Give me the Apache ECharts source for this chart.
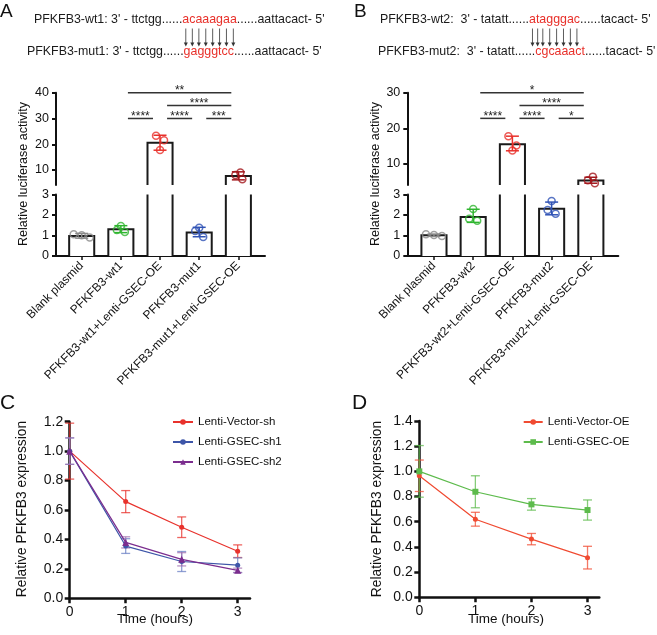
<!DOCTYPE html>
<html><head><meta charset="utf-8">
<script src="https://cdn.jsdelivr.net/npm/echarts@6/dist/echarts.min.js"></script>
<style>html,body{margin:0;padding:0;background:#fff}#c{width:657px;height:635px}</style>
</head><body><div id="c"></div>
<script>
const FONT = "'Liberation Sans', Arial, Helvetica, sans-serif";

// ---------- Panel A ----------
const catsA = ['Blank plasmid', 'PFKFB3-wt1', 'PFKFB3-wt1+Lenti-GSEC-OE', 'PFKFB3-mut1', 'PFKFB3-mut1+Lenti-GSEC-OE'];
const meanA = [0.98, 1.30, 20.6, 1.15, 7.7];
const errLoA = [0.87, 1.14, 17.7, 0.94, 6.2];
const errHiA = [1.10, 1.48, 23.5, 1.40, 9.3];
const ptsA = [[1.06, 1.01, 0.90], [1.46, 1.27, 1.17], [23.3, 21.6, 17.8], [1.38, 1.22, 0.93], [9.0, 8.1, 6.4]];
const sigFromA = [1, 2, 3, 2, 1];   // category index (0-based)
const sigToA = [2, 3, 4, 4, 4];
const sigYA = [30, 30, 30, 35, 40];
const sigTextA = ['****', '****', '***', '****', '**'];
const upperTicksA = [10, 20, 30, 40];

// ---------- Panel B ----------
const catsB = ['Blank plasmid', 'PFKFB3-wt2', 'PFKFB3-wt2+Lenti-GSEC-OE', 'PFKFB3-mut2', 'PFKFB3-mut2+Lenti-GSEC-OE'];
const meanB = [1.01, 1.90, 15.5, 2.31, 5.35];
const errLoB = [0.96, 1.64, 13.7, 2.01, 4.6];
const errHiB = [1.07, 2.28, 17.8, 2.63, 6.27];
const ptsB = [[1.06, 1.03, 0.97], [2.29, 1.82, 1.72], [17.8, 15.2, 13.8], [2.68, 2.24, 2.06], [6.45, 5.4, 4.6]];
const sigFromB = [1, 2, 3, 2, 1];
const sigToB = [2, 3, 4, 4, 4];
const sigYB = [22.8, 22.8, 22.8, 26.4, 30];
const sigTextB = ['****', '****', '*', '****', '*'];
const upperTicksB = [10, 20, 30];
const lowerTicks = [0, 1, 2, 3];

// ---------- Panel C ----------
const timeC = [0, 1, 2, 3];
const vecShC = [1.0, 0.657, 0.483, 0.32];
const vecShErrC = [0.19, 0.075, 0.07, 0.043];
const sh1C = [1.0, 0.355, 0.25, 0.225];
const sh1ErrC = [0.09, 0.05, 0.068, 0.05];
const sh2C = [1.0, 0.38, 0.265, 0.19];
const sh2ErrC = [0.09, 0.038, 0.045, 0.015];

// ---------- Panel D ----------
const timeD = [0, 1, 2, 3];
const vecOED = [0.965, 0.62, 0.462, 0.315];
const vecOEErrD = [0.125, 0.055, 0.045, 0.09];
const gsecOED = [1.0, 0.838, 0.738, 0.693];
const gsecOEErrD = [0.205, 0.127, 0.046, 0.08];
const timeTicks = [0, 1, 2, 3];

// ---------- styles ----------
const ptColors = ['#8a8a8a', '#2fb52f', '#e8302a', '#2f52b5', '#a3161c'];
const jitter = [[-8, 0, 8], [0, -4, 4], [-4, 4, 0], [0, -4, 4], [2, -3, 4]];
const AX = '#111';
const POS = i => i + 1;              // category slot on the value x-axis (kept away from 0)
const CAT_TICKS = [1, 2, 3, 4, 5];

function barSeries(xi, yi, means, lo, hi) {
  return {
    type: 'custom', xAxisIndex: xi, yAxisIndex: yi, z: 2, clip: false, silent: true,
    data: means.map((m, i) => [POS(i), m]),
    renderItem(params, api) {
      const x = api.value(0), v = api.value(1);
      const b = Math.max(0, lo), t = Math.min(v, hi);
      if (t <= b) return null;
      const pb = api.coord([x, b]), pt = api.coord([x, t]);
      const hw = api.size([1, 0])[0] * 0.32;
      const x0 = pb[0] - hw, x1 = pb[0] + hw;
      const ch = [{ type: 'rect', shape: { x: x0, y: pt[1], width: 2 * hw, height: pb[1] - pt[1] }, style: { fill: '#fff' } }];
      const st = { stroke: '#1a1a1a', lineWidth: 2, fill: null };
      if (v <= hi) ch.push({ type: 'polyline', shape: { points: [[x0, pb[1]], [x0, pt[1]], [x1, pt[1]], [x1, pb[1]]] }, style: st });
      else {
        ch.push({ type: 'line', shape: { x1: x0, y1: pb[1], x2: x0, y2: pt[1] }, style: st });
        ch.push({ type: 'line', shape: { x1: x1, y1: pb[1], x2: x1, y2: pt[1] }, style: st });
      }
      return { type: 'group', children: ch };
    }
  };
}
function errSeries(xi, yi, means, los, his, lo, hi) {
  const data = [];
  means.forEach((m, i) => { if (m >= lo && m <= hi) data.push([POS(i), los[i], his[i], i]); });
  return {
    type: 'custom', xAxisIndex: xi, yAxisIndex: yi, z: 3, clip: false, silent: true, data,
    renderItem(params, api) {
      const x = api.value(0);
      const a = api.coord([x, api.value(1)]), b = api.coord([x, api.value(2)]);
      const c = ptColors[api.value(3)], w = 6.5;
      const st = { stroke: c, lineWidth: 1.5 };
      return { type: 'group', children: [
        { type: 'line', shape: { x1: a[0], y1: a[1], x2: b[0], y2: b[1] }, style: st },
        { type: 'line', shape: { x1: a[0] - w, y1: a[1], x2: a[0] + w, y2: a[1] }, style: st },
        { type: 'line', shape: { x1: b[0] - w, y1: b[1], x2: b[0] + w, y2: b[1] }, style: st }
      ] };
    }
  };
}
function ptSeries(xi, yi, means, pts, lo, hi) {
  const data = [];
  means.forEach((m, i) => {
    if (m >= lo && m <= hi) pts[i].forEach((p, k) => data.push({
      value: [POS(i), p], symbolOffset: [jitter[i][k], 0],
      itemStyle: { color: 'rgba(255,255,255,0)', borderColor: ptColors[i], borderWidth: 1.5 }
    }));
  });
  return { type: 'scatter', xAxisIndex: xi, yAxisIndex: yi, z: 4, clip: false, silent: true, symbol: 'circle', symbolSize: 7, data };
}
function sigSeries(xi, yi, from, to, ys, texts) {
  return {
    type: 'custom', xAxisIndex: xi, yAxisIndex: yi, z: 5, clip: false, silent: true,
    data: from.map((f, i) => [POS(f), POS(to[i]), ys[i], i]),
    renderItem(params, api) {
      const a = api.coord([api.value(0) + 0.18, api.value(2)]);
      const b = api.coord([api.value(1) - 0.18, api.value(2)]);
      return { type: 'group', children: [
        { type: 'line', shape: { x1: a[0], y1: a[1], x2: b[0], y2: b[1] }, style: { stroke: '#333', lineWidth: 1.5 } },
        { type: 'text', x: (a[0] + b[0]) / 2, y: a[1] - 2, style: { text: texts[api.value(3)], fill: '#222', fontSize: 12, fontFamily: FONT, align: 'center', verticalAlign: 'middle' } }
      ] };
    }
  };
}
function lineErr(xi, yi, xs, ys, es, color) {
  return {
    type: 'custom', xAxisIndex: xi, yAxisIndex: yi, z: 3, clip: false, silent: true,
    data: xs.map((x, i) => [x, ys[i] - es[i], ys[i] + es[i]]),
    renderItem(params, api) {
      const a = api.coord([api.value(0), api.value(1)]), b = api.coord([api.value(0), api.value(2)]);
      const w = 4.5, st = { stroke: color, lineWidth: 1.3, opacity: 0.75 };
      return { type: 'group', children: [
        { type: 'line', shape: { x1: a[0], y1: a[1], x2: b[0], y2: b[1] }, style: st },
        { type: 'line', shape: { x1: a[0] - w, y1: a[1], x2: a[0] + w, y2: a[1] }, style: st },
        { type: 'line', shape: { x1: b[0] - w, y1: b[1], x2: b[0] + w, y2: b[1] }, style: st }
      ] };
    }
  };
}
function lineS(xi, yi, name, xs, ys, color, symbol, size) {
  return {
    type: 'line', name, xAxisIndex: xi, yAxisIndex: yi, z: 4, symbol, symbolSize: size, showSymbol: true,
    data: xs.map((x, i) => [x, ys[i]]), color,
    lineStyle: { color, width: 1.2 }, itemStyle: { color }, clip: false
  };
}

const yAxisBase = (gi, min, max, ticks, fmt, fs, margin) => ({
  type: 'value', gridIndex: gi, min, max,
  axisLine: { show: true, onZero: false, lineStyle: { color: AX, width: 2 } },
  axisTick: { show: true, length: 4, lineStyle: { color: AX, width: 2 }, customValues: ticks },
  axisLabel: { color: '#111', fontSize: fs || 12.5, fontFamily: FONT, margin: margin || 7, customValues: ticks, formatter: fmt || (v => String(v)) },
  splitLine: { show: false }
});
const xHidden = (gi, min, max) => ({ type: 'value', gridIndex: gi, min, max, show: false, splitLine: { show: false } });
const xCat = (gi, min, max, cats) => ({
  type: 'value', gridIndex: gi, min, max,
  axisLine: { show: true, onZero: false, lineStyle: { color: AX, width: 2 } },
  axisTick: { show: true, length: 4, lineStyle: { color: AX, width: 1.5 }, customValues: CAT_TICKS },
  axisLabel: { color: '#111', fontSize: 12, fontFamily: FONT, rotate: 45, margin: 8, customValues: CAT_TICKS, formatter: v => cats[Math.round(v) - 1] },
  splitLine: { show: false }
});
const xTime = (gi, max) => ({
  type: 'value', gridIndex: gi, min: 0, max,
  axisLine: { show: true, onZero: false, lineStyle: { color: AX, width: 2.5 } },
  axisTick: { show: true, length: 5, lineStyle: { color: AX, width: 2.5 }, customValues: timeTicks },
  axisLabel: { color: '#111', fontSize: 14, fontFamily: FONT, margin: 7, customValues: timeTicks },
  splitLine: { show: false }
});
const yVal = (gi, max) => {
  const t = []; for (let k = 0; k <= Math.round(max / 0.2); k++) t.push(+(k * 0.2).toFixed(1));
  const a = yAxisBase(gi, 0, max, t, v => v.toFixed(1), 14, 6.5);
  a.axisLine.lineStyle.width = 2.5; a.axisTick.lineStyle.width = 2.5; a.axisTick.length = 5;
  return a;
};

// ---------- graphics: sequences ----------
const ctx = document.createElement('canvas').getContext('2d');
const SEQ_FS = 12.4;
ctx.font = SEQ_FS + 'px "Liberation Sans"';
const mw = s => ctx.measureText(s).width;
const graphics = [];
function seqLine(x, y, pre, red, post, arrows) {
  const base = { fontSize: SEQ_FS, fontFamily: FONT, verticalAlign: 'middle', align: 'left' };
  const rx = x + mw(pre), px = rx + mw(red);
  graphics.push({ type: 'text', x, y, style: Object.assign({ text: pre, fill: '#1a1a1a' }, base) });
  graphics.push({ type: 'text', x: rx, y, style: Object.assign({ text: red, fill: '#e8302a' }, base) });
  graphics.push({ type: 'text', x: px, y, style: Object.assign({ text: post, fill: '#1a1a1a' }, base) });
  if (arrows) {
    let cx = rx;
    for (const ch of red) {
      const c = cx + mw(ch) / 2; cx += mw(ch);
      graphics.push({ type: 'line', shape: { x1: c, y1: 28.5, x2: c, y2: 43 }, style: { stroke: '#333', lineWidth: 0.8 } });
      graphics.push({ type: 'polygon', shape: { points: [[c - 2, 42.5], [c + 2, 42.5], [c, 46.5]] }, style: { fill: '#333' } });
    }
  }
}
seqLine(34, 20, "PFKFB3-wt1: 3' - ttctgg......", 'acaaagaa', "......aattacact- 5'", true);
seqLine(27, 52, "PFKFB3-mut1: 3' - ttctgg......", 'gagggtcc', "......aattacact- 5'", false);
seqLine(380, 20, "PFKFB3-wt2:  3' - tatatt......", 'atagggac', "......tacact- 5'", true);
seqLine(378, 52, "PFKFB3-mut2:  3' - tatatt......", 'cgcaaact', "......tacact- 5'", false);

const letter = (t, x, y, fs) => ({ type: 'text', x, y, style: { text: t, fontSize: fs, fontFamily: FONT, fill: '#111', align: 'left', verticalAlign: 'middle' } });
graphics.push(letter('A', 0, 12, 19), letter('B', 354, 12, 19), letter('C', 0, 403, 21), letter('D', 352, 403, 21));
const vTitle = (t, x, y, fs) => ({ type: 'text', x, y, rotation: Math.PI / 2, style: { text: t, fontSize: fs, fontFamily: FONT, fill: '#111', align: 'center', verticalAlign: 'middle' } });
const hTitle = (t, x, y, fs) => ({ type: 'text', x, y, style: { text: t, fontSize: fs, fontFamily: FONT, fill: '#111', align: 'center', verticalAlign: 'middle' } });
graphics.push(vTitle('Relative luciferase activity', 24, 174, 12.5));
graphics.push(vTitle('Relative luciferase activity', 376, 174, 12.5));
graphics.push(vTitle('Relative PFKFB3 expression', 22.5, 509, 13.8));
graphics.push(vTitle('Relative PFKFB3 expression', 377.5, 509, 13.8));
graphics.push(hTitle('Time (hours)', 155, 619, 13.5));
graphics.push(hTitle('Time (hours)', 506, 619, 13.5));

const A_UP = [4.2, 40], B_UP = [4.1, 30], LOW = [0, 3];
const A_X = [0.344, 5.68], B_X = [0.32, 5.70];
const option = {
  animation: false,
  backgroundColor: '#fff',
  textStyle: { fontFamily: FONT },
  grid: [
    { left: 56, top: 92.7, width: 209, height: 92.3 },
    { left: 56, top: 194.5, width: 209, height: 61.5 },
    { left: 407.3, top: 92.7, width: 211, height: 92.3 },
    { left: 407.3, top: 194.5, width: 211, height: 61.5 },
    { left: 69.7, top: 421.7, width: 180.3, height: 176.6 },
    { left: 419.3, top: 421, width: 180, height: 176.3 }
  ],
  xAxis: [
    xHidden(0, A_X[0], A_X[1]), xCat(1, A_X[0], A_X[1], catsA),
    xHidden(2, B_X[0], B_X[1]), xCat(3, B_X[0], B_X[1], catsB),
    xTime(4, 3.22), xTime(5, 3.21)
  ],
  yAxis: [
    yAxisBase(0, A_UP[0], A_UP[1], upperTicksA), yAxisBase(1, LOW[0], LOW[1], lowerTicks),
    yAxisBase(2, B_UP[0], B_UP[1], upperTicksB), yAxisBase(3, LOW[0], LOW[1], lowerTicks),
    yVal(4, 1.2), yVal(5, 1.4)
  ],
  legend: [
    { orient: 'vertical', left: 167, top: 411, itemWidth: 20, itemHeight: 7, itemGap: 8, textStyle: { fontSize: 11.5, fontFamily: FONT, color: '#111' },
      data: ['Lenti-Vector-sh', 'Lenti-GSEC-sh1', 'Lenti-GSEC-sh2'] },
    { orient: 'vertical', left: 517.7, top: 411, itemWidth: 19, itemHeight: 7, itemGap: 8, textStyle: { fontSize: 11.5, fontFamily: FONT, color: '#111' },
      data: ['Lenti-Vector-OE', 'Lenti-GSEC-OE'] }
  ],
  graphic: graphics,
  series: [
    barSeries(0, 0, meanA, A_UP[0], A_UP[1]), barSeries(1, 1, meanA, LOW[0], LOW[1]),
    errSeries(0, 0, meanA, errLoA, errHiA, A_UP[0], A_UP[1]), errSeries(1, 1, meanA, errLoA, errHiA, LOW[0], LOW[1]),
    ptSeries(0, 0, meanA, ptsA, A_UP[0], A_UP[1]), ptSeries(1, 1, meanA, ptsA, LOW[0], LOW[1]),
    sigSeries(0, 0, sigFromA, sigToA, sigYA, sigTextA),
    barSeries(2, 2, meanB, B_UP[0], B_UP[1]), barSeries(3, 3, meanB, LOW[0], LOW[1]),
    errSeries(2, 2, meanB, errLoB, errHiB, B_UP[0], B_UP[1]), errSeries(3, 3, meanB, errLoB, errHiB, LOW[0], LOW[1]),
    ptSeries(2, 2, meanB, ptsB, B_UP[0], B_UP[1]), ptSeries(3, 3, meanB, ptsB, LOW[0], LOW[1]),
    sigSeries(2, 2, sigFromB, sigToB, sigYB, sigTextB),
    lineErr(4, 4, timeC, vecShC, vecShErrC, '#e8322c'),
    lineErr(4, 4, timeC, sh1C, sh1ErrC, '#6a7fc4'),
    lineErr(4, 4, timeC, sh2C, sh2ErrC, '#a070b0'),
    lineS(4, 4, 'Lenti-Vector-sh', timeC, vecShC, '#e8322c', 'circle', 5),
    lineS(4, 4, 'Lenti-GSEC-sh1', timeC, sh1C, '#3d55a8', 'circle', 5),
    lineS(4, 4, 'Lenti-GSEC-sh2', timeC, sh2C, '#7b2d8e', 'triangle', 7),
    lineErr(5, 5, timeD, vecOED, vecOEErrD, '#f04b32'),
    lineErr(5, 5, timeD, gsecOED, gsecOEErrD, '#5dbb4c'),
    lineS(5, 5, 'Lenti-Vector-OE', timeD, vecOED, '#f04b32', 'circle', 5),
    lineS(5, 5, 'Lenti-GSEC-OE', timeD, gsecOED, '#5dbb4c', 'rect', 6)
  ]
};
const chart = echarts.init(document.getElementById('c'), null, { renderer: 'canvas' });
chart.setOption(option);
</script></body></html>
